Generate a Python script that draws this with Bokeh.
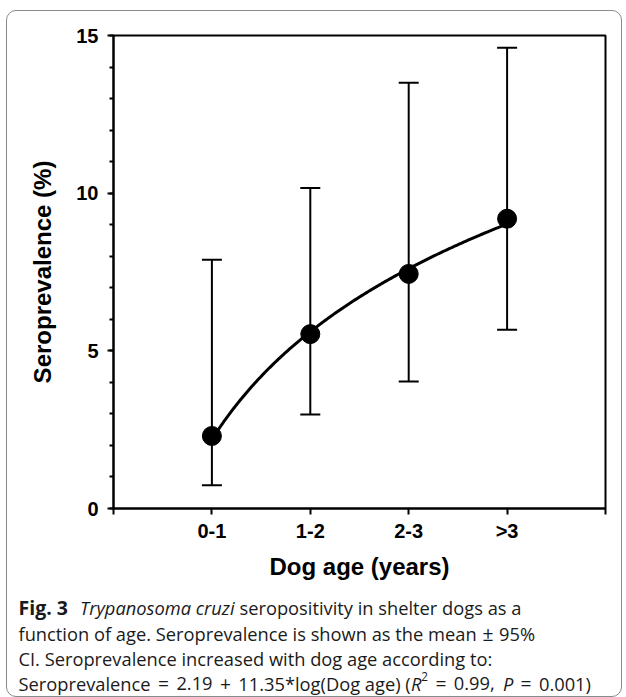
import subprocess
import numpy as np
from bokeh.plotting import figure
from bokeh.layouts import column
from bokeh.models import (Range1d, FixedTicker, ColumnDataSource, Whisker, TeeHead, Label)
from bokeh.embed import file_html
from bokeh.resources import INLINE

# ---------------- data ----------------
categories = ["0-1", "1-2", "2-3", ">3"]
seroprevalence = [2.30, 5.53, 7.44, 9.19]
ci_upper = [7.89, 10.16, 13.50, 14.61]
ci_lower = [0.74, 2.98, 4.03, 5.67]
fit_intercept = 2.19
fit_slope = 11.35
y_ticks = [0, 5, 10, 15]
y_minor_ticks = list(range(0, 16))
x_title = "Dog age (years)"
y_title = "Seroprevalence (%)"

# caption pieces: (text, style); style "gap" means a horizontal gap given in em
caption_lines = [
    [("Fig. 3", "bold"), ("0.7", "gap"), ("Trypanosoma cruzi", "italic"),
     (" seropositivity in shelter dogs as a", "normal")],
    [("function of age. Seroprevalence is shown as the mean", "normal"), ("0.3", "gap"),
     ("\u00b1", "op"), ("0.3", "gap"), ("95%", "normal")],
    [("CI. Seroprevalence increased with dog age according to:", "normal")],
    [("Seroprevalence", "normal"), ("0.4", "gap"), ("=", "op"), ("0.4", "gap"),
     ("2.19", "normal"), ("0.4", "gap"), ("+", "op"), ("0.4", "gap"),
     ("11.35*log(Dog age) (", "normal"), ("R", "italic"), ("2", "sup"),
     ("0.4", "gap"), ("=", "op"), ("0.4", "gap"), ("0.99,", "normal"), ("0.45", "gap"),
     ("P", "italic"), ("0.4", "gap"), ("=", "op"), ("0.4", "gap"), ("0.001)", "normal")],
]

positions = [i + 1 for i in range(len(categories))]

# ---------------- layout ----------------
OFF_X, OFF_Y = 7, 11          # page offset of the figures (box margin + border)
W = 614
H1 = 577                      # chart figure height
H2 = 108                      # caption figure height
FL, FR, FT, FB = 106, 598, 24, 497   # frame edges inside the chart figure
XMAX = len(categories) + 1
YMAX = 15

p = figure(width=W, height=H1, output_backend="svg", toolbar_location=None,
           x_range=Range1d(0, XMAX), y_range=Range1d(0, YMAX),
           min_border_left=FL, min_border_right=W - FR,
           min_border_top=FT, min_border_bottom=H1 - FB)
p.frame_align = False
p.background_fill_color = "white"
p.border_fill_color = None
p.outline_line_color = "black"
p.outline_line_width = 2
p.xgrid.visible = False
p.ygrid.visible = False

TICK_FONT = "Liberation Sans"
for ax in (p.xaxis[0], p.yaxis[0]):
    ax.axis_line_width = 2
    ax.axis_line_color = "black"
    ax.major_tick_line_width = 2
    ax.major_tick_line_color = "black"
    ax.major_tick_in = 0
    ax.major_tick_out = 6
    ax.major_label_text_font = TICK_FONT
    ax.major_label_text_font_style = "bold"
    ax.major_label_text_font_size = "20px"
    ax.major_label_text_color = "black"
    ax.axis_label_text_font = TICK_FONT
    ax.axis_label_text_font_style = "bold"
    ax.axis_label_text_font_size = "24px"
    ax.axis_label_text_color = "black"

p.yaxis.ticker = FixedTicker(ticks=y_ticks, minor_ticks=y_minor_ticks)
p.yaxis.minor_tick_in = 0
p.yaxis.minor_tick_out = 4
p.yaxis.minor_tick_line_width = 2
p.yaxis.minor_tick_line_color = "black"
p.yaxis.major_label_standoff = 9
p.yaxis.axis_label = y_title
p.yaxis.axis_label_standoff = 17

p.xaxis.ticker = FixedTicker(ticks=list(range(0, XMAX + 1)))
overrides = {0: "", XMAX: ""}
for pos, cat in zip(positions, categories):
    overrides[pos] = cat
p.xaxis.major_label_overrides = overrides
p.xaxis.minor_tick_line_color = None
p.xaxis.major_label_standoff = 5
p.xaxis.axis_label = x_title
p.xaxis.axis_label_standoff = 8

# ---------------- marks ----------------
xs = np.linspace(positions[0], positions[-1], 200)
ys = fit_intercept + fit_slope * np.log10(xs)
p.line(xs, ys, line_width=3, line_color="black")

src = ColumnDataSource(dict(x=positions, y=seroprevalence, upper=ci_upper, lower=ci_lower))
wh = Whisker(source=src, base="x", upper="upper", lower="lower",
             line_width=2, line_color="black",
             upper_head=TeeHead(size=20, line_width=2, line_color="black"),
             lower_head=TeeHead(size=20, line_width=2, line_color="black"))
p.add_layout(wh)
p.scatter("x", "y", source=src, size=19, color="black")

# ---------------- caption figure (pixel coordinates) ----------------
cap = figure(width=W, height=H2, output_backend="svg", toolbar_location=None,
             x_range=Range1d(0, W), y_range=Range1d(H2, 0),
             x_axis_type=None, y_axis_type=None, min_border=0)
cap.frame_align = False
cap.outline_line_color = None
cap.background_fill_color = None
cap.border_fill_color = None
cap.xgrid.visible = False
cap.ygrid.visible = False

CAP_FONT = "Open Sans"
CAP_SIZE = 18.3
BOLD_SIZE = 19.5
OP_SIZE = 19.3


def _font_file(pattern):
    try:
        out = subprocess.run(["fc-match", "-f", "%{file}", pattern],
                             capture_output=True, text=True, timeout=5).stdout.strip()
        return out or None
    except Exception:
        return None


_fonts = {}


def measure(text, style, size):
    try:
        from PIL import ImageFont
        key = (style, size)
        if key not in _fonts:
            pat = {"normal": CAP_FONT, "sup": CAP_FONT, "op": CAP_FONT,
                   "italic": CAP_FONT + ":style=Italic",
                   "bold": CAP_FONT + ":style=Bold"}[style]
            _fonts[key] = ImageFont.truetype(_font_file(pat), size)
        w = _fonts[key].getlength(text)
        if style == "bold":
            w *= 1.04
        return w
    except Exception:
        return len(text) * size * 0.52


CAP_LEFT = 18 - OFF_X
CAP_TOP = OFF_Y + H1
baselines = [607, 632.5, 658, 683]
for line, base in zip(caption_lines, baselines):
    cx = CAP_LEFT
    for text, style in line:
        if style == "gap":
            cx += float(text) * CAP_SIZE
            continue
        size = {"sup": CAP_SIZE * 0.64, "bold": BOLD_SIZE, "op": OP_SIZE}.get(style, CAP_SIZE)
        yb = base - CAP_TOP - (7 if style == "sup" else 0)
        fstyle = {"italic": "italic", "bold": "bold"}.get(style, "normal")
        stripped = text.lstrip(" ")
        lead = len(text) - len(stripped)
        if lead:
            cx += measure(" " * lead, "normal", size)
        if stripped:
            cap.add_layout(Label(x=cx, y=yb, text=stripped, text_font=CAP_FONT,
                                 text_font_size=f"{size}px", text_font_style=fstyle,
                                 text_color="#1a1a1a", text_baseline="alphabetic",
                                 text_align="left"))
            cx += measure(stripped, style, size)

layout = column(p, cap, spacing=0, margin=(10, 4, 0, 6),
                styles={"border": "1.3px solid #8a8a8a", "border-radius": "10px"})

open("out.html", "w").write(file_html(layout, INLINE))
